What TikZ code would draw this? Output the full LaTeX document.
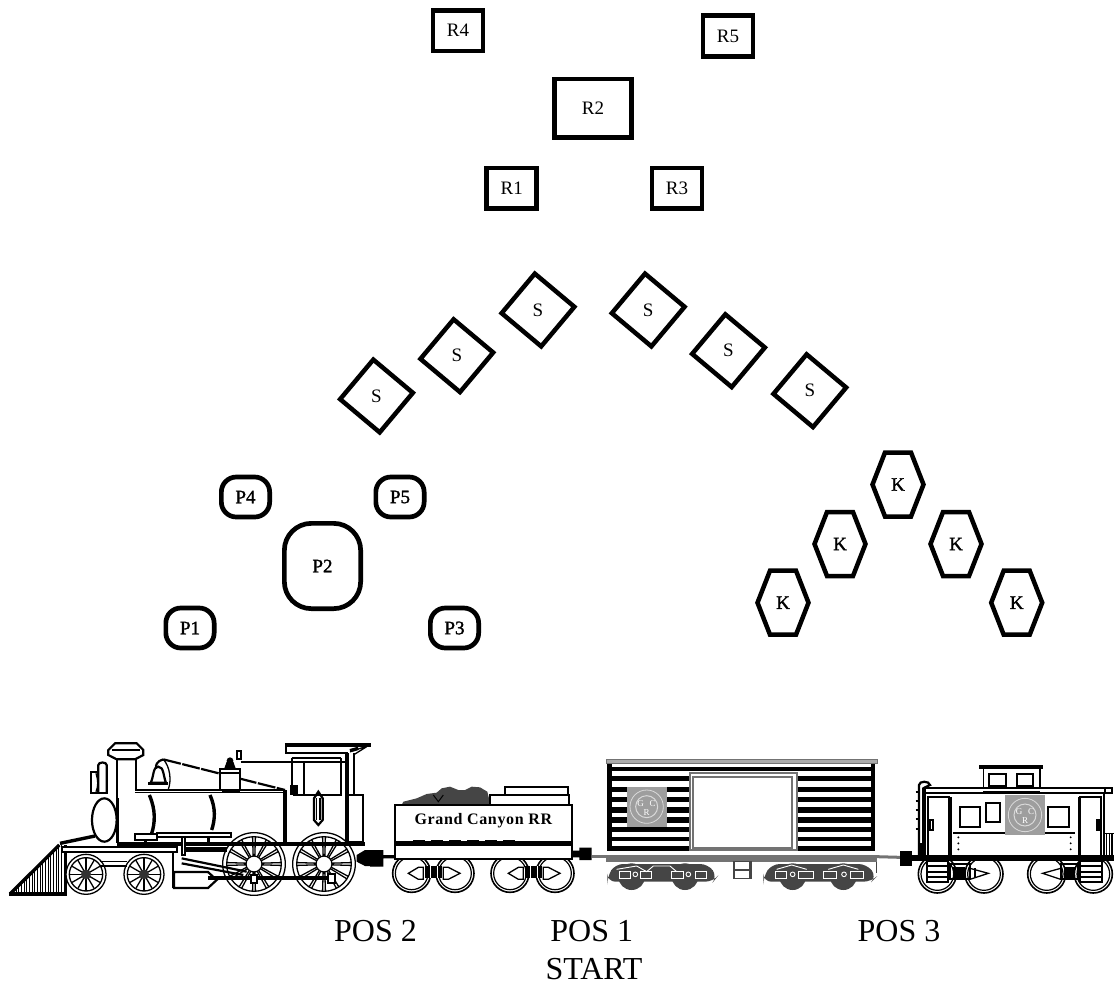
\documentclass[tikz,border=0pt]{standalone}
\usepackage{fontspec}
\setmainfont{Liberation Serif}
\newfontfamily\semib[FakeBold=1.6]{Liberation Serif}
\newfontfamily\rrfont[LetterSpace=4]{Liberation Serif Bold}
\usetikzlibrary{shapes.geometric}
\definecolor{logog}{gray}{0.62}
\definecolor{coalg}{gray}{0.27}
\definecolor{frameg}{gray}{0.45}
\tikzset{
  rbox/.style={draw,line width=4.7pt,inner sep=0pt,font=\fontsize{19}{19}\selectfont},
  pbox/.style={draw,line width=4.7pt,inner sep=0pt,rounded corners=15pt,font=\semib\fontsize{19}{19}\selectfont},
  sbox/.style={draw,line width=4.5pt,regular polygon,regular polygon sides=4,regular polygon rotate=50,minimum size=73pt,inner sep=0pt,font=\fontsize{19}{19}\selectfont},
  kbox/.style={inner sep=0pt,font=\semib\fontsize{19}{19}\selectfont},
  hexline/.style={line width=4.5pt,line join=miter},
  poslabel/.style={inner sep=0pt,anchor=base,font=\fontsize{32}{32}\selectfont},
  thin1/.style={line width=1.3pt},
  med/.style={line width=2.2pt},
  thick1/.style={line width=3.4pt},
}
\newcommand\HexNode[3]{%
  \node[kbox] (#1) at (#2,#3) {K};
  \draw[hexline] ([shift={(-13,-32)}]#1.center) -- ([shift={(13,-32)}]#1.center) -- ([shift={(25.5,0)}]#1.center) -- ([shift={(13,32)}]#1.center) -- ([shift={(-13,32)}]#1.center) -- ([shift={(-25.5,0)}]#1.center) -- cycle;}
\newcommand\BigWheel[2]{%
  \begin{scope}[shift={(#1,#2)}]
  \filldraw[fill=white,thin1] (0,0) circle[radius=94];
  \draw[thin1] (0,0) circle[radius=82];
  \foreach \a in {0,30,...,330}{
    \draw[thin1] (\a-6:24) -- (\a-3:81);
    \draw[thin1] (\a+6:24) -- (\a+3:81);}
  \filldraw[fill=white,thin1] (0,0) circle[radius=24];
  \end{scope}}
\newcommand\SmallWheel[2]{%
  \begin{scope}[shift={(#1,#2)}]
  \filldraw[fill=white,thin1] (0,0) circle[radius=60];
  \draw[thin1] (0,0) circle[radius=50];
  \foreach \a in {0,30,...,330}{\draw[thin1] (\a:10) -- (\a:49);}
  \fill[black!80] (0,0) circle[radius=15];
  \end{scope}}
\newcommand\TenderWheel[2]{\filldraw[fill=white,line width=1.6pt] (#1,#2) circle[radius=57];\draw[line width=1.2pt] (#1,#2) circle[radius=49];}
\newcommand\LogoBox[2]{%
  \begin{scope}[shift={(#1,#2)}]
  \fill[logog] (0,0) rectangle (120,120);
  \draw[white!85!black,line width=.8pt] (60,60) circle[radius=50];
  \draw[white!85!black,line width=1pt] (60,60) circle[radius=33];
  \node[inner sep=0pt,text=white,font=\fontsize{9}{9}\selectfont] (lg#1) at (42,50) {G};
  \node[inner sep=0pt,text=white,font=\fontsize{9}{9}\selectfont] (lc#1) at (78,50) {C};
  \node[inner sep=0pt,text=white,font=\fontsize{9}{9}\selectfont] (lr#1) at (60,78) {R};
  \end{scope}}
\begin{document}
\begin{tikzpicture}[x=1pt,y=-1pt]
\useasboundingbox (0,0) rectangle (1114,983);
% R group
\node[rbox,minimum width=49.9pt,minimum height=40.6pt] (R4) at (458,30.7) {R4};
\node[rbox,minimum width=49.9pt,minimum height=40.6pt] (R5) at (728,36) {R5};
\node[rbox,minimum width=77.3pt,minimum height=58.6pt] (R2) at (593,108.3) {R2};
\node[rbox,minimum width=49.9pt,minimum height=40.6pt] (R1) at (511.7,188.3) {R1};
\node[rbox,minimum width=49.9pt,minimum height=40.6pt] (R3) at (677,188.3) {R3};
% S group
\node[sbox] (S1) at (376.5,396) {S};
\node[sbox] (S2) at (456.8,355.7) {S};
\node[sbox] (S3) at (538,310) {S};
\node[sbox] (S4) at (648.2,310) {S};
\node[sbox] (S5) at (728.5,350.7) {S};
\node[sbox] (S6) at (809.8,390.7) {S};
% P group
\node[pbox,minimum width=48.3pt,minimum height=40pt] (P4) at (245.5,497) {P4};
\node[pbox,minimum width=48.3pt,minimum height=40pt] (P5) at (400,497) {P5};
\node[pbox,minimum width=76.3pt,minimum height=85.3pt,rounded corners=27pt] (P2) at (322.5,566) {P2};
\node[pbox,minimum width=48.3pt,minimum height=40pt] (P1) at (190,628) {P1};
\node[pbox,minimum width=48.3pt,minimum height=40pt] (P3) at (454.5,628) {P3};
% K group
\HexNode{K1}{783}{602.7}
\HexNode{K2}{840}{544}
\HexNode{K3}{898}{484.5}
\HexNode{K4}{956}{544}
\HexNode{K5}{1016.7}{602.7}
% ---------- locomotive (units: 1/3 px)
\begin{scope}[shift={(0,730)},x=.33333pt,y=-.33333pt]
 % cow catcher
 \begin{scope}
  \clip (30,492) -- (178,345) -- (198,345) -- (198,492) -- cycle;
  \foreach \h in {40,48,...,196}{\draw[line width=.9pt] (\h,340) -- (\h,495);}
 \end{scope}
 \draw[thick1] (30,492) -- (178,345);
 \draw[line width=4pt] (28,492) -- (200,492);
 \draw[thin1] (198,345) -- (198,492);
 \draw[thick1] (180,340) -- (285,318);
 % wheels
 \SmallWheel{258}{433}
 \SmallWheel{432}{433}
 % cylinder behind big wheel
 \filldraw[fill=white,med] (522,426) -- (624,426) -- (650,450) -- (624,474) -- (522,474) -- cycle;
 \draw[med] (520,370) -- (520,474);
 \BigWheel{762}{402}
 \BigWheel{972}{402}
 % boiler
 \draw[thin1] (405,180) -- (855,180) (405,188) -- (855,188);
 \draw[thick1] (350,342) -- (855,342);
 \draw[med] (350,88) -- (350,340);
 \draw[med] (408,88) -- (408,180);
 \draw[thick1] (352,205) -- (352,340);
 \draw[thick1] (448,195) .. controls (468,240) and (465,280) .. (455,310);
 \draw[thick1] (630,195) .. controls (648,235) and (645,270) .. (635,300);
 % stack cap
 \filldraw[fill=white,med] (345,40) -- (410,40) -- (430,60) -- (430,75) -- (405,88) -- (350,88) -- (325,75) -- (325,60) -- cycle;
 \draw[thin1] (335,60) -- (420,60);
 % sand box
 \draw[med] (295,190) -- (295,105) .. controls (295,95) and (320,95) .. (320,105) -- (320,190);
 \draw[med] (295,125) -- (272,125) -- (272,188) -- (325,188);
 \draw[thin1] (288,130) .. controls (295,150) and (295,170) .. (288,185);
 % front ellipse
 \draw[med] (313,270) ellipse[x radius=37,y radius=65];
 % running board
 \filldraw[fill=white,med] (405,312) rectangle (470,330);
 \filldraw[fill=white,med] (470,308) rectangle (692,320);
 \draw[thick1] (625,320) -- (625,340);
 \draw[thick1] (437,330) -- (437,342);
 % bell & rail
 \draw[med] (490,88) .. controls (470,92) and (465,110) .. (470,112);
 \draw[med] (452,158) .. controls (462,140) and (458,110) .. (475,110) .. controls (492,110) and (490,140) .. (498,158) -- cycle;
 \draw[thick1] (445,160) -- (505,160);
 \draw[thin1] (490,88) .. controls (510,110) and (515,150) .. (505,178);
 \draw[med,dash pattern=on 18pt off 1.5pt] (490,88) -- (855,180);
 % dome
 \filldraw[fill=white,med] (660,118) rectangle (720,180);
 \draw[med] (660,128) -- (720,128);
 \fill (672,118) -- (680,95) -- (700,95) -- (708,118) -- cycle;
 \fill (690,92) circle[radius=10];
 \fill (665,180) rectangle (720,190);
 \draw[med] (712,88) rectangle (724,62);
 % cab
 \draw[thick1] (855,45) -- (1112,45);
 \draw[med] (858,45) -- (858,70) -- (1045,70);
 \draw[med] (875,85) -- (1022,85) (875,97) -- (1022,97);
 \draw[med] (875,85) -- (875,180);
 \draw[med] (1022,85) -- (1022,195) -- (880,195);
 \draw[med] (912,100) -- (912,195);
 \draw[med] (722,95) -- (1040,95);
 \draw[line width=4pt] (855,180) -- (855,335);
 \fill (870,165) rectangle (895,195);
 \draw[line width=4pt] (1042,70) -- (1042,335);
 \draw[med] (1062,70) -- (1062,195);
 \draw[med] (1042,195) -- (1090,195) -- (1090,335) -- (1042,335);
 \draw[thin1] (1050,65) -- (1112,45) (1060,75) -- (1100,50);
 \draw[thick1] (1050,62) -- (1075,55);
 \draw[thick1] (855,340) -- (1095,340);
 \draw[thin1] (855,347) -- (1095,347);
 % lantern
 \draw[med] (955,185) -- (968,205) -- (968,270) -- (955,285) -- (942,270) -- (942,205) -- cycle;
 \draw[thin1] (950,205) -- (950,270) (960,205) -- (960,270);
 % frame and running gear
 \filldraw[fill=white,med] (185,350) rectangle (530,366);
 \draw[thin1] (300,395) -- (380,395) (300,408) -- (380,408);
 \fill (555,350) rectangle (680,366);
 \filldraw[fill=white,med] (545,320) rectangle (556,375);
 \draw[med] (545,385) -- (740,425);
 \draw[med] (545,400) -- (730,435);
 \draw[med] (625,440) -- (1000,440) (625,448) -- (1000,448);
 \filldraw[fill=white,med] (752,435) rectangle (772,458);
 \filldraw[fill=white,med] (985,432) rectangle (1006,458);
 % coupler
 \fill (1070,375) -- (1095,360) -- (1140,360) -- (1140,408) -- (1095,408) -- (1070,395) -- cycle;
\end{scope}
% ---------- tender and boxcar left part (units: 1/3 px)
\begin{scope}[shift={(370,740)},x=.33333pt,y=-.33333pt]
 \fill (0,330) -- (40,330) -- (40,345) -- (75,345) -- (75,355) -- (40,355) -- (40,380) -- (0,380) -- cycle;
 \TenderWheel{125}{400}
 \TenderWheel{255}{400}
 \TenderWheel{420}{400}
 \TenderWheel{555}{400}
 \foreach \c in {190,490}{
  \draw[thin1] (\c-75,400) -- (\c-45,382) -- (\c-30,382) -- (\c-30,418) -- (\c-45,418) -- cycle;
  \draw[thin1] (\c+80,400) -- (\c+45,382) -- (\c+30,382) -- (\c+30,418) -- (\c+45,418) -- cycle;
  \fill (\c-25,378) rectangle (\c+25,415);
  \draw[white,line width=.8pt] (\c-10,378) -- (\c-10,415) (\c+12,378) -- (\c+12,415);
 }
 % coal
 \fill[coalg] (95,195) -- (100,185) -- (140,175) -- (170,162) -- (200,158) -- (215,145) -- (240,140) -- (265,150) -- (285,150) -- (305,140) -- (330,142) -- (352,155) -- (362,195) -- cycle;
 \draw[black,line width=1pt] (190,165) -- (205,185) -- (220,165);
 % top boxes
 \filldraw[fill=white,med] (360,165) rectangle (598,195);
 \filldraw[fill=white,med] (405,140) rectangle (595,165);
 % body
 \filldraw[fill=white,med] (75,195) rectangle (607,358);
 \draw[med] (75,307) -- (607,307);
 \draw[thick1] (78,313) -- (604,313);
 \draw[med,dash pattern=on 12pt off 6pt] (130,303) -- (440,303);
 \node[inner sep=0pt,font=\rrfont\fontsize{16}{16}\selectfont] (tendertext) at (340,243) {Grand Canyon RR};
 % coupler
 \fill (605,332) -- (628,332) -- (628,323) -- (665,323) -- (665,360) -- (628,360) -- (628,352) -- (605,352) -- cycle;
 \draw[frameg,line width=2.5pt] (665,350) -- (708,350);
\end{scope}
% ---------- boxcar (pixel units)
\foreach \ya/\yb in {767/771,776/781,787/792,797/802,807/813,817/823,827/832,837/841,846/851}{
 \fill (607,\ya) rectangle (874,\yb);}
\fill (607,763) rectangle (612,851);
\fill (871,763) rectangle (875,851);
\fill[frameg!60] (606,759) rectangle (877,763);
\draw[frameg,line width=1pt] (606,759) rectangle (877,763.5);
\filldraw[fill=white,draw=frameg,line width=1.6pt] (690,773) rectangle (797,850);
\filldraw[fill=white,draw=frameg,line width=1.4pt] (693,777) rectangle (792,848);
\begin{scope}[shift={(370,740)},x=.33333pt,y=-.33333pt]
 \LogoBox{770}{140}
 % underframe
 \fill[frameg] (708,340) rectangle (1520,365);
 \fill[white] (708,340) rectangle (1520,344);
 % truck 1
 \fill[coalg] (785,410) circle[radius=40];
 \fill[coalg] (945,410) circle[radius=40];
 \fill[coalg,rounded corners=8pt] (712,410) -- (735,372) -- (1015,372) -- (1042,410) -- (1030,425) -- (712,425) -- cycle;
 \draw[white,line width=.9pt] (740,388) -- (800,378) -- (830,395) -- (850,378) -- (900,378) -- (920,395);
 \draw[white,line width=.9pt] (748,395) rectangle (782,415) (810,395) rectangle (845,415) (905,395) rectangle (940,415) (975,395) rectangle (1010,415);
 \draw[white,line width=.9pt] (796,403) circle[radius=7] (955,403) circle[radius=7];
 % step
 \draw[coalg,line width=1.6pt] (1092,365) rectangle (1140,390);
 \draw[coalg,line width=1.6pt] (1092,390) rectangle (1140,415);
\end{scope}
% ---------- right part (units: 1/3 px from x=740)
\begin{scope}[shift={(740,740)},x=.33333pt,y=-.33333pt]
 % truck 2
 \fill[coalg] (158,410) circle[radius=40];
 \fill[coalg] (310,410) circle[radius=40];
 \fill[coalg,rounded corners=8pt] (70,410) -- (95,372) -- (380,372) -- (410,410) -- (395,425) -- (70,425) -- cycle;
 \draw[white,line width=.9pt] (105,415) rectangle (140,395) (175,415) rectangle (220,395) (250,415) rectangle (290,395) (330,415) rectangle (370,395);
 \draw[white,line width=.9pt] (158,403) circle[radius=7] (312,403) circle[radius=7];
 \draw[white,line width=.9pt] (110,388) -- (155,375) -- (200,388) (265,388) -- (310,375) -- (355,388);
 \draw[coalg,line width=1.6pt] (0,365) -- (33,365) -- (33,415) -- (0,415) (0,390) -- (33,390);
 \draw[coalg,line width=1.6pt] (410,365) -- (410,400);
 % coupler
 \draw[frameg,line width=3pt] (410,350) -- (480,352);
 \fill (480,332) rectangle (515,378);
 % caboose wheels
 \TenderWheel{592}{402}
 \TenderWheel{732}{402}
 \TenderWheel{920}{402}
 \TenderWheel{1060}{402}
 % ladders
 \filldraw[fill=white,med] (560,362) rectangle (625,425);
 \draw[med] (560,378) -- (625,378) (560,396) -- (625,396) (560,410) -- (625,410);
 \filldraw[fill=white,med] (1020,362) rectangle (1085,425);
 \draw[med] (1020,378) -- (1085,378) (1020,396) -- (1085,396) (1020,410) -- (1085,410);
 % trucks
 \fill (640,380) rectangle (675,415);
 \draw[med] (630,372) rectangle (690,418);
 \draw[thin1] (690,385) -- (745,400) -- (690,418);
 \draw[thin1] (705,385) -- (705,415);
 \fill (972,380) rectangle (1005,415);
 \draw[med] (962,372) rectangle (1015,418);
 \draw[thin1] (962,385) -- (908,400) -- (962,418);
 % cupola
 \draw[line width=1.6pt] (730,150) -- (730,85) (900,150) -- (900,85);
 \draw[line width=4pt] (718,80) -- (910,80);
 \draw[med] (748,101) rectangle (798,137);
 \draw[med] (832,101) rectangle (880,137);
 % roof & body
 \filldraw[fill=white,med] (555,145) rectangle (1095,160);
 \filldraw[fill=white,med] (1095,145) rectangle (1117,160);
 \filldraw[fill=white,med] (555,160) rectangle (1092,350);
 \draw[thin1] (730,145) -- (900,145) (730,155) -- (900,155);
 % logo
 \LogoBox{795}{165}
 % windows
 \draw[med] (660,202) rectangle (720,262);
 \draw[med] (737,190) rectangle (780,245);
 \draw[med] (925,202) rectangle (987,262);
 \draw[med] (640,280) -- (795,280) (915,280) -- (1005,280);
 \foreach \yy in {292,310,328}{\fill (655,\yy) circle[radius=3.2] (992,\yy) circle[radius=3.2];}
 % doors
 \draw[med] (565,345) -- (565,172) -- (630,172);
 \draw[thick1] (630,172) -- (630,345);
 \draw[thick1] (1018,172) -- (1018,345);
 \draw[med] (1018,172) -- (1082,172) -- (1082,345);
 \draw[med] (570,240) rectangle (578,270);
 \draw[med] (1070,240) rectangle (1078,270);
 % ladder rail at left
 \draw[med] (537,345) -- (537,135) .. controls (537,122) and (568,122) .. (570,135) -- (555,142) -- (550,145) -- (550,310);
 \fill (535,310) rectangle (553,350);
 \foreach \yy in {155,182,210,238,268}{\draw[med] (527,\yy) -- (537,\yy);}
 % rear rail
 \draw[thin1] (1095,280) -- (1122,280);
 \foreach \xx in {1100,1108,1116}{\draw[thin1] (\xx,280) -- (\xx,345);}
 % base
 \fill (515,345) rectangle (1122,362);
\end{scope}
% labels
\node[poslabel] (pos2) at (375.5,941) {POS 2};
\node[poslabel] (pos1) at (591.7,941) {POS 1};
\node[poslabel] (start) at (594,979) {START};
\node[poslabel] (pos3) at (899,941) {POS 3};
\end{tikzpicture}
\end{document}
